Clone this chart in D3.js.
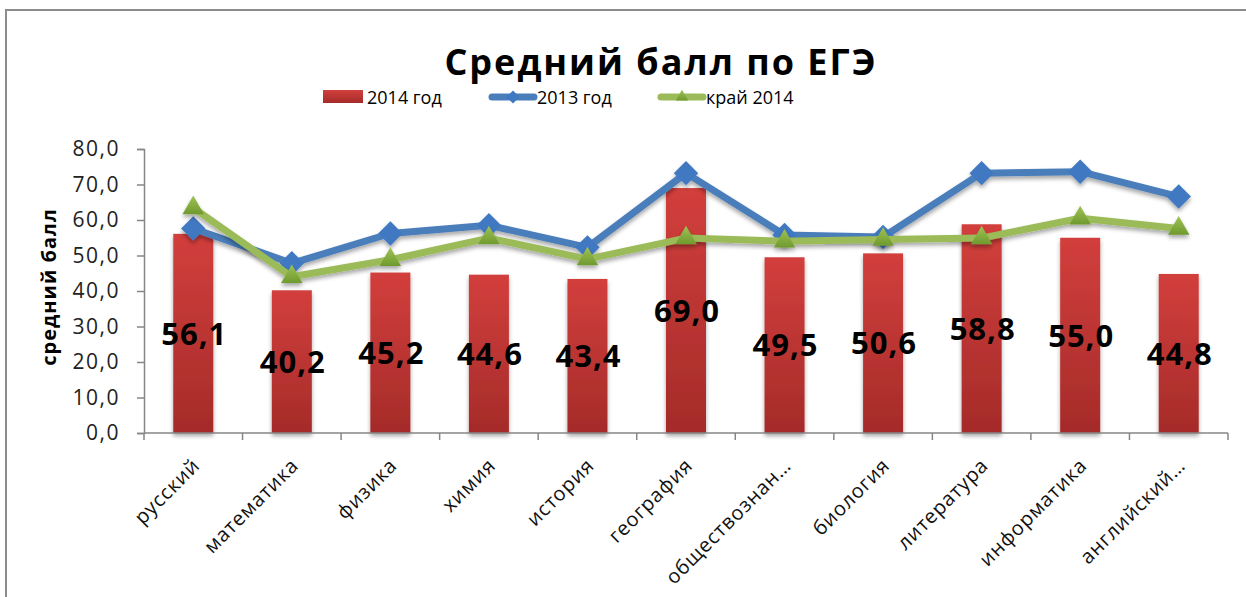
<!DOCTYPE html>
<html>
<head>
<meta charset="utf-8">
<script src="https://cdn.jsdelivr.net/npm/d3@7"></script>
<style>
  body { margin: 0; background: #fff; }
  text { font-family: "Open Sans", "DejaVu Sans", sans-serif; }
</style>
</head>
<body>
<svg id="viz" width="1246" height="597"></svg>
<script>
// data
var subjects = ["русский", "математика", "физика", "химия", "история", "география",
    "обществознан…", "биология", "литература", "информатика", "английский…"];
var score2014 = [56.1, 40.2, 45.2, 44.6, 43.4, 69.0, 49.5, 50.6, 58.8, 55.0, 44.8];
var score2013 = [57.6, 47.8, 56.2, 58.5, 52.3, 73.2, 55.8, 55.2, 73.2, 73.6, 66.6];
var region2014 = [63.4, 44.0, 48.8, 54.9, 49.0, 54.9, 54.0, 54.5, 54.9, 60.5, 57.6];
var yTicks = [0, 10, 20, 30, 40, 50, 60, 70, 80];
var seriesNames = ["2014 год", "2013 год", "край 2014"];

var svg = d3.select("#viz"),
    margin = {top: 149, left: 144},
    width = 1228 - 144,
    height = 433 - 149;

var defs = svg.append("defs");
var barGrad = defs.append("linearGradient").attr("id", "barGrad")
    .attr("x1", 0).attr("y1", 0).attr("x2", 0).attr("y2", 1);
barGrad.append("stop").attr("offset", "0%").attr("stop-color", "#d23f3c");
barGrad.append("stop").attr("offset", "100%").attr("stop-color", "#a52b29");
var triGrad = defs.append("linearGradient").attr("id", "triGrad")
    .attr("x1", 0).attr("y1", 0).attr("x2", 0).attr("y2", 1);
triGrad.append("stop").attr("offset", "0%").attr("stop-color", "#9fc255");
triGrad.append("stop").attr("offset", "100%").attr("stop-color", "#6f9a2e");
var shadow = defs.append("filter").attr("id", "shadow")
    .attr("x", "-20%").attr("y", "-20%").attr("width", "140%").attr("height", "160%");
shadow.append("feDropShadow").attr("dx", 0).attr("dy", 3).attr("stdDeviation", 2)
    .attr("flood-color", "#000").attr("flood-opacity", 0.35);

// outer chart frame
svg.append("rect").attr("x", 6).attr("y", 10).attr("width", 1260).attr("height", 600)
    .attr("fill", "none").attr("stroke", "#8c8c8c").attr("stroke-width", 2);

// title
svg.append("text").attr("x", 661).attr("y", 75).attr("text-anchor", "middle")
    .style("font-size", "36px").style("font-weight", "bold").style("letter-spacing", "2px")
    .text("Средний балл по ЕГЭ");

var g = svg.append("g").attr("transform", "translate(" + margin.left + "," + margin.top + ")");

var x = d3.scaleBand().domain(subjects).range([0, width]).padding(0);
var y = d3.scaleLinear().domain([0, 80]).range([height, 0]);
var xc = function(i) { return x(subjects[i]) + x.bandwidth() / 2; };
var comma = function(d) { return d3.format(".1f")(d).replace(".", ","); };

// y axis
var yAxis = g.append("g").attr("class", "y axis")
    .call(d3.axisLeft(y).tickValues(yTicks).tickSize(7).tickPadding(17).tickFormat(comma));
yAxis.select(".domain").attr("stroke", "#868686").attr("stroke-width", 1.5);
yAxis.selectAll(".tick line").attr("stroke", "#868686").attr("stroke-width", 1.5);
yAxis.selectAll(".tick text").style("font-size", "21px").style("letter-spacing", "1.5px")
    .attr("fill", "#222").style("font-family", "'Open Sans', sans-serif");

// y label
svg.append("text").attr("transform", "translate(56,287) rotate(-90)")
    .attr("text-anchor", "middle").style("font-size", "20px").style("font-weight", "bold")
    .style("letter-spacing", "1px").text("средний балл");

// bars
g.selectAll(".bar").data(score2014).enter().append("rect")
    .attr("class", "bar")
    .attr("x", function(d, i) { return xc(i) - 20; })
    .attr("width", 40)
    .attr("y", function(d) { return y(d); })
    .attr("height", function(d) { return height - y(d); })
    .attr("fill", "url(#barGrad)")
    .attr("filter", "url(#shadow)");

// x axis
var xAxisG = g.append("g").attr("class", "x axis").attr("transform", "translate(0," + height + ")");
xAxisG.append("line").attr("x1", 0).attr("x2", width).attr("y1", 0).attr("y2", 0)
    .attr("stroke", "#868686").attr("stroke-width", 1.5);
xAxisG.selectAll(".xtick").data(d3.range(subjects.length + 1)).enter().append("line")
    .attr("x1", function(i) { return i * x.step(); })
    .attr("x2", function(i) { return i * x.step(); })
    .attr("y1", 0).attr("y2", 7)
    .attr("stroke", "#868686").attr("stroke-width", 1.5);
xAxisG.selectAll(".xlabel").data(subjects).enter().append("text")
    .attr("transform", function(d, i) { return "translate(" + (xc(i) - 2) + ",24) rotate(-45)"; })
    .attr("text-anchor", "end").attr("dy", "0.7em")
    .style("font-size", "20px").style("letter-spacing", "0.8px").attr("fill", "#111")
    .text(function(d) { return d; });

// lines
var lineGen = d3.line().x(function(d, i) { return xc(i); }).y(function(d) { return y(d); });
var diamond = d3.symbol().type(d3.symbolDiamond2).size(380);
var triangle = d3.symbol().type(d3.symbolTriangle2).size(330);

var blue = g.append("g").attr("filter", "url(#shadow)");
blue.append("path").datum(score2013).attr("d", lineGen)
    .attr("fill", "none").attr("stroke", "#4a7ebb").attr("stroke-width", 7)
    .attr("stroke-linejoin", "round").attr("stroke-linecap", "round");
blue.selectAll("path.mk").data(score2013).enter().append("path").attr("class", "mk")
    .attr("d", diamond)
    .attr("transform", function(d, i) { return "translate(" + xc(i) + "," + y(d) + ")"; })
    .attr("fill", "#3f79c1");

var green = g.append("g").attr("filter", "url(#shadow)");
green.append("path").datum(region2014).attr("d", lineGen)
    .attr("fill", "none").attr("stroke", "#9bbb59").attr("stroke-width", 7)
    .attr("stroke-linejoin", "round").attr("stroke-linecap", "round");
green.selectAll("path.mk").data(region2014).enter().append("path").attr("class", "mk")
    .attr("d", triangle)
    .attr("transform", function(d, i) { return "translate(" + xc(i) + "," + y(d) + ")"; })
    .attr("fill", "url(#triGrad)");

// data labels in the middle of each bar
g.selectAll(".lbl").data(score2014).enter().append("text")
    .attr("x", function(d, i) { return xc(i) + 1; })
    .attr("y", function(d) { return y(d / 2); })
    .attr("dy", "0.36em").attr("text-anchor", "middle")
    .style("font-size", "31px").style("font-weight", "bold").style("letter-spacing", "1px")
    .attr("fill", "#000")
    .text(comma);

// legend
var legend = svg.append("g").attr("class", "legend");
legend.append("rect").attr("x", 323).attr("y", 90).attr("width", 40).attr("height", 13)
    .attr("fill", "url(#barGrad)");
legend.append("text").attr("x", 367).attr("y", 104).style("font-size", "18px").text(seriesNames[0]);
legend.append("line").attr("x1", 492).attr("x2", 534).attr("y1", 97).attr("y2", 97)
    .attr("stroke", "#4a7ebb").attr("stroke-width", 7).attr("stroke-linecap", "round");
legend.append("path").attr("d", d3.symbol().type(d3.symbolDiamond2).size(110))
    .attr("transform", "translate(513,97)").attr("fill", "#3f79c1");
legend.append("text").attr("x", 537).attr("y", 104).style("font-size", "18px").text(seriesNames[1]);
legend.append("line").attr("x1", 661).attr("x2", 703).attr("y1", 97).attr("y2", 97)
    .attr("stroke", "#9bbb59").attr("stroke-width", 7).attr("stroke-linecap", "round");
legend.append("path").attr("d", d3.symbol().type(d3.symbolTriangle2).size(110))
    .attr("transform", "translate(682,97)").attr("fill", "url(#triGrad)");
legend.append("text").attr("x", 706).attr("y", 104).style("font-size", "18px").text(seriesNames[2]);
</script>
</body>
</html>
